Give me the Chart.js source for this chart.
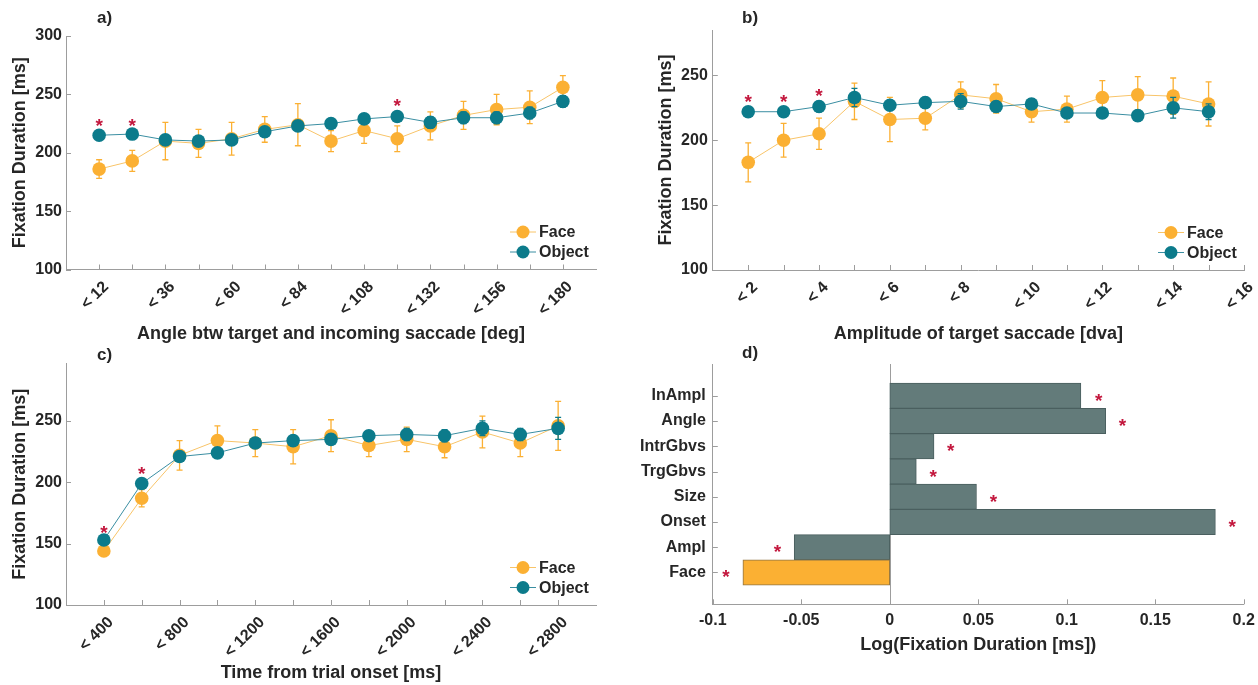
<!DOCTYPE html>
<html>
<head>
<meta charset="utf-8">
<title>Fixation duration</title>
<script src="https://cdn.jsdelivr.net/npm/chart.js@4.4.1/dist/chart.umd.min.js"></script>
<style>
  html, body { margin: 0; padding: 0; background: #fff; }
  #fig { position: relative; width: 1258px; height: 685px; overflow: hidden; }
  #fig canvas { position: absolute; }
</style>
</head>
<body>
<div id="fig">
  <canvas id="chartA" width="620" height="345" style="left:0;top:0"></canvas>
  <canvas id="chartB" width="638" height="345" style="left:620px;top:0"></canvas>
  <canvas id="chartC" width="620" height="340" style="left:0;top:345px"></canvas>
  <canvas id="chartD" width="638" height="340" style="left:620px;top:345px"></canvas>
</div>
<script>
// a) angle between target and incoming saccade
const angleBins = ['< 12', '< 24', '< 36', '< 48', '< 60', '< 72', '< 84', '< 96', '< 108', '< 120', '< 132', '< 144', '< 156', '< 168', '< 180'];
const faceAngle = [186, 193, 210, 208, 212, 220, 224, 210, 219, 212, 223, 232, 237, 239, 256];
const faceAngleErr = [8, 9, 16, 12, 14, 11, 18, 9, 11, 11, 12, 12, 13, 14, 10];
const objectAngle = [215, 216, 211, 210, 211, 218, 223, 225, 229, 231, 226, 230, 230, 234, 244];
const objectAngleErr = [4, 4, 4, 4, 4, 4, 4, 4, 4, 4, 5, 5, 5, 5, 5];
const angleStars = [227, 227, null, null, null, null, null, null, null, 244, null, null, null, null, null];

// b) amplitude of target saccade
const amplBins = ['< 2', '< 3', '< 4', '< 5', '< 6', '< 7', '< 8', '< 9', '< 10', '< 11', '< 12', '< 13', '< 14', '< 15', '< 16'];
const faceAmpl = [183, 200, 205, 230, 216, 217, 235, 232, 222, 224, 233, 235, 234, 228];
const faceAmplErr = [15, 13, 12, 14, 17, 9, 10, 11, 8, 10, 13, 14, 14, 17];
const objectAmpl = [222, 222, 226, 233, 227, 229, 230, 226, 228, 221, 221, 219, 225, 222];
const objectAmplErr = [3, 3, 4, 7, 4, 4, 6, 4, 4, 4, 4, 4, 8, 6];
const amplStars = [233, 233, 238, null, null, null, null, null, null, null, null, null, null, null];

// c) time from trial onset
const timeBins = ['< 400', '< 600', '< 800', '< 1000', '< 1200', '< 1400', '< 1600', '< 1800', '< 2000', '< 2200', '< 2400', '< 2600', '< 2800'];
const faceTime = [144, 187, 222, 234, 232, 229, 238, 230, 235, 229, 241, 232, 246];
const faceTimeErr = [4, 7, 12, 12, 11, 14, 13, 9, 10, 9, 13, 11, 20];
const objectTime = [153, 199, 221, 224, 232, 234, 235, 238, 239, 238, 244, 239, 244];
const objectTimeErr = [3, 3, 4, 4, 4, 4, 4, 4, 5, 5, 6, 5, 9];
const timeStars = [163, 211, null, null, null, null, null, null, null, null, null, null, null];

const yTicksA = [100, 150, 200, 250, 300];
const yTicksBC = [100, 150, 200, 250];

// d) model coefficients
const predictors = ['InAmpl', 'Angle', 'IntrGbvs', 'TrgGbvs', 'Size', 'Onset', 'Ampl', 'Face'];
const estimates = [0.108, 0.122, 0.025, 0.015, 0.049, 0.184, -0.054, -0.083];
const estimateStars = [0.118, 0.1315, 0.0345, 0.0246, 0.0586, 0.1935, -0.0634, -0.0926];
const xTicksD = [-0.1, -0.05, 0, 0.05, 0.1, 0.15, 0.2];

const FONT = '"Liberation Sans", Arial, Helvetica, sans-serif';
const TEXT = '#262626';
const AXIS = '#9d9d9d';
const FACE = '#fbb033';
const FACE_LINE = '#f8c469';
const OBJECT = '#0c7b8b';
const OBJECT_LINE = '#3a8ea2';
const STAR = '#c3173d';
const BAR_GREY = '#637b7a';

Chart.defaults.font.family = FONT;
Chart.defaults.font.weight = 'bold';
Chart.defaults.color = TEXT;

// per-canvas extras: panel letter, significance stars, inset legend
const extras = {};

const errorBars = {
  id: 'errorBars',
  beforeDatasetDraw(chart, args) {
    const ds = chart.data.datasets[args.index];
    if (!ds.errors) return;
    const meta = chart.getDatasetMeta(args.index);
    const y = chart.scales.y;
    const ctx = chart.ctx;
    ctx.save();
    ctx.strokeStyle = ds.errorColor;
    ctx.lineWidth = 1.3;
    ctx.beginPath();
    meta.data.forEach((pt, i) => {
      const v = ds.data[i].y, e = ds.errors[i];
      const top = y.getPixelForValue(v + e), bot = y.getPixelForValue(v - e);
      ctx.moveTo(pt.x, top); ctx.lineTo(pt.x, bot);
      ctx.moveTo(pt.x - 3, top); ctx.lineTo(pt.x + 3, top);
      ctx.moveTo(pt.x - 3, bot); ctx.lineTo(pt.x + 3, bot);
    });
    ctx.stroke();
    ctx.restore();
  }
};

const inwardTicks = {
  id: 'inwardTicks',
  afterDraw(chart) {
    const { ctx, chartArea: a } = chart;
    const xs = chart.scales.x, ys = chart.scales.y;
    ctx.save();
    ctx.strokeStyle = AXIS;
    ctx.lineWidth = 1;
    ctx.beginPath();
    xs.ticks.forEach((t, i) => {
      const px = Math.round(xs.getPixelForTick(i)) + 0.5;
      ctx.moveTo(px, a.bottom); ctx.lineTo(px, a.bottom - 5);
    });
    ys.ticks.forEach((t, i) => {
      const py = Math.round(ys.getPixelForTick(i)) + 0.5;
      ctx.moveTo(a.left, py); ctx.lineTo(a.left + 5, py);
    });
    ctx.stroke();
    ctx.restore();
  }
};

const decorations = {
  id: 'decorations',
  afterDatasetsDraw(chart) {
    const ex = extras[chart.canvas.id];
    if (!ex) return;
    const { ctx, chartArea: a } = chart;
    const xs = chart.scales.x, ys = chart.scales.y;
    ctx.save();
    // significance stars
    ctx.fillStyle = STAR;
    ctx.font = 'bold 19px ' + FONT;
    ctx.textAlign = 'center';
    ctx.textBaseline = 'alphabetic';
    ex.stars.forEach(s => {
      ctx.fillText('*', xs.getPixelForValue(s.x), ys.getPixelForValue(s.y) + 11);
    });
    // inset legend
    if (ex.legend) {
      const mx = a.right - 73;
      const rows = [a.bottom - 37.5, a.bottom - 17.5];
      chart.data.datasets.forEach((ds, i) => {
        const my = rows[i];
        ctx.strokeStyle = ds.borderColor;
        ctx.lineWidth = 1;
        ctx.beginPath(); ctx.moveTo(mx - 13, my); ctx.lineTo(mx + 13, my); ctx.stroke();
        ctx.fillStyle = ds.pointBackgroundColor;
        ctx.beginPath(); ctx.arc(mx, my, 6.5, 0, Math.PI * 2); ctx.fill();
        ctx.fillStyle = TEXT;
        ctx.font = 'bold 16px ' + FONT;
        ctx.textAlign = 'left';
        ctx.textBaseline = 'middle';
        ctx.fillText(ds.label, mx + 16, my + 1);
      });
    }
    ctx.restore();
  },
  afterDraw(chart) {
    const ex = extras[chart.canvas.id];
    if (!ex) return;
    const ctx = chart.ctx;
    ctx.save();
    ctx.fillStyle = TEXT;
    ctx.font = 'bold 17px ' + FONT;
    ctx.textAlign = 'left';
    ctx.textBaseline = 'middle';
    ctx.fillText(ex.letter, ex.lx, ex.ly);
    ctx.restore();
  }
};

Chart.register(errorBars, inwardTicks, decorations);

function linePanel(id, o) {
  extras[id] = {
    letter: o.letter, lx: o.lx, ly: o.ly, legend: true,
    stars: o.stars.map((v, i) => (v == null ? null : { x: i + 1, y: v })).filter(Boolean)
  };
  return new Chart(document.getElementById(id), {
    type: 'line',
    data: {
      datasets: [
        {
          label: 'Face',
          data: o.face.map((v, i) => ({ x: i + 1, y: v })),
          errors: o.faceErr, errorColor: FACE,
          borderColor: FACE_LINE, borderWidth: 1,
          pointBackgroundColor: FACE, pointBorderColor: FACE,
          pointRadius: 6.8, pointBorderWidth: 0, tension: 0, order: 2
        },
        {
          label: 'Object',
          data: o.object.map((v, i) => ({ x: i + 1, y: v })),
          errors: o.objectErr, errorColor: OBJECT,
          borderColor: OBJECT_LINE, borderWidth: 1,
          pointBackgroundColor: OBJECT, pointBorderColor: OBJECT,
          pointRadius: 6.8, pointBorderWidth: 0, tension: 0, order: 1
        }
      ]
    },
    options: {
      responsive: false,
      animation: false,
      layout: { padding: o.padding },
      plugins: { legend: { display: false }, tooltip: { enabled: false } },
      scales: {
        x: {
          type: 'linear', min: 0, max: o.xMax,
          afterBuildTicks: s => { s.ticks = o.bins.map((b, i) => ({ value: i + 1 })); },
          afterFit: s => { s.height = o.xH; s.paddingLeft = 0; s.paddingRight = 0; },
          ticks: {
            autoSkip: false, minRotation: 45, maxRotation: 45,
            labelOffset: 7, padding: 8, font: { size: 16 },
            callback: (v, i) => (i % 2 === 0 ? o.bins[i] : '')
          },
          grid: { display: false, drawTicks: false },
          border: { color: AXIS, width: 1 },
          title: { display: true, text: o.xTitle, font: { size: 18 }, padding: { top: 0, bottom: o.xTitlePad } }
        },
        y: {
          type: 'linear', min: o.yMin, max: o.yMax,
          afterBuildTicks: s => { s.ticks = o.yTicks.map(v => ({ value: v })); },
          afterFit: s => { s.width = o.yW; s.paddingTop = 0; s.paddingBottom = 0; },
          ticks: { padding: o.yPad, font: { size: 16 } },
          grid: { display: false, drawTicks: false },
          border: { color: AXIS, width: 1 },
          title: { display: true, text: 'Fixation Duration [ms]', font: { size: 18 }, padding: { top: o.yTitlePad, bottom: 0 } }
        }
      }
    }
  });
}

linePanel('chartA', {
  letter: 'a)', lx: 97, ly: 18,
  bins: angleBins, face: faceAngle, faceErr: faceAngleErr,
  object: objectAngle, objectErr: objectAngleErr, stars: angleStars,
  xMax: 16, yMin: 100, yMax: 300, yTicks: yTicksA,
  padding: { top: 36, right: 24, bottom: 0, left: 0 }, xH: 75.5, yW: 66, yPad: 4,
  xTitle: 'Angle btw target and incoming saccade [deg]', xTitlePad: 0, yTitlePad: 9
});

linePanel('chartB', {
  letter: 'b)', lx: 122, ly: 18,
  bins: amplBins, face: faceAmpl, faceErr: faceAmplErr,
  object: objectAmpl, objectErr: objectAmplErr, stars: amplStars,
  xMax: 15, yMin: 100, yMax: 285, yTicks: yTicksBC,
  padding: { top: 30, right: 14, bottom: 0, left: 0 }, xH: 75, yW: 92.8, yPad: 5,
  xTitle: 'Amplitude of target saccade [dva]', xTitlePad: 0, yTitlePad: 35
});

linePanel('chartC', {
  letter: 'c)', lx: 97, ly: 10,
  bins: timeBins, face: faceTime, faceErr: faceTimeErr,
  object: objectTime, objectErr: objectTimeErr, stars: timeStars,
  xMax: 14, yMin: 100, yMax: 297, yTicks: yTicksBC,
  padding: { top: 18.3, right: 24, bottom: 0, left: 0 }, xH: 80, yW: 66, yPad: 4,
  xTitle: 'Time from trial onset [ms]', xTitlePad: 1, yTitlePad: 9
});

// d) horizontal bars of the fixed-effect estimates
extras.chartD = {
  letter: 'd)', lx: 122, ly: 8, legend: false,
  stars: estimateStars.map((v, i) => ({ x: v, y: i + 1 }))
};

const zeroLine = {
  id: 'zeroLine',
  beforeDatasetsDraw(chart) {
    if (chart.canvas.id !== 'chartD') return;
    const { ctx, chartArea: a } = chart;
    const px = Math.round(chart.scales.x.getPixelForValue(0)) + 0.5;
    ctx.save();
    ctx.strokeStyle = AXIS;
    ctx.lineWidth = 1;
    ctx.beginPath(); ctx.moveTo(px, a.top); ctx.lineTo(px, a.bottom); ctx.stroke();
    ctx.restore();
  }
};

new Chart(document.getElementById('chartD'), {
  type: 'bar',
  data: {
    datasets: [{
      data: estimates.map((v, i) => ({ x: v, y: i + 1 })),
      backgroundColor: predictors.map(p => (p === 'Face' ? FACE : BAR_GREY)),
      borderColor: predictors.map(p => (p === 'Face' ? '#8f7444' : '#4a5f5f')),
      borderWidth: 1,
      borderSkipped: false,
      barPercentage: 1,
      categoryPercentage: 1
    }]
  },
  plugins: [zeroLine],
  options: {
    indexAxis: 'y',
    responsive: false,
    animation: false,
    layout: { padding: { top: 19, right: 14.3, bottom: 0, left: 0 } },
    plugins: { legend: { display: false }, tooltip: { enabled: false } },
    scales: {
      x: {
        type: 'linear', min: -0.1, max: 0.2,
        afterBuildTicks: s => { s.ticks = xTicksD.map(v => ({ value: v })); },
        afterFit: s => { s.height = 80.7; s.paddingLeft = 0; s.paddingRight = 0; },
        ticks: { padding: 7, font: { size: 16 }, callback: v => String(v) },
        grid: { display: false, drawTicks: false },
        border: { color: AXIS, width: 1 },
        title: { display: true, text: 'Log(Fixation Duration [ms])', font: { size: 18 }, padding: { top: 0, bottom: 29 } }
      },
      y: {
        type: 'linear', reverse: true, min: -0.26, max: 9.26, offset: false,
        afterBuildTicks: s => { s.ticks = predictors.map((p, i) => ({ value: i + 1 })); },
        afterFit: s => { s.width = 92.8; s.paddingTop = 0; s.paddingBottom = 0; },
        ticks: { padding: 7, font: { size: 16 }, callback: (v, i) => predictors[i] },
        grid: { display: false, drawTicks: false, offset: false },
        border: { color: AXIS, width: 1 }
      }
    }
  }
});
</script>
</body>
</html>
